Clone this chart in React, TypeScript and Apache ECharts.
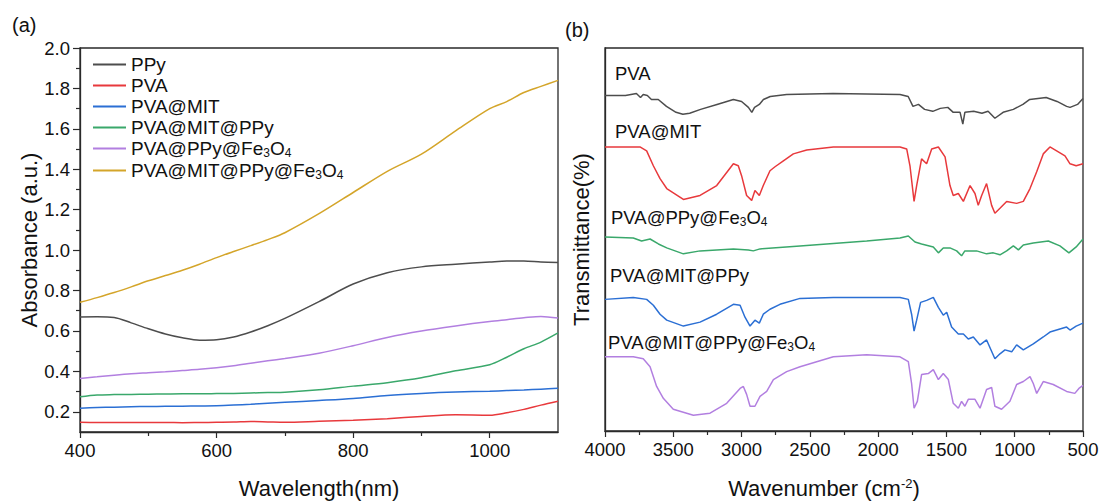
import React, { useEffect, useRef } from 'react';
import * as echarts from 'echarts';

const FONT = "'Liberation Sans', Arial, Helvetica, sans-serif";
const AXIS = '#2a2a2a';
const TXT = '#111111';

// ---------- panel (a): UV-vis absorbance ----------
const wavelengths = [400, 425, 450, 475, 500, 525, 550, 575, 600, 625, 650, 675, 700, 750, 800, 850, 900, 950, 1000, 1025, 1050, 1075, 1100];
const absPPy = [0.669, 0.67, 0.667, 0.64, 0.611, 0.585, 0.566, 0.554, 0.556, 0.57, 0.595, 0.626, 0.662, 0.745, 0.832, 0.888, 0.917, 0.93, 0.941, 0.946, 0.946, 0.941, 0.939];
const absPVA = [0.148, 0.147, 0.147, 0.147, 0.147, 0.147, 0.146, 0.147, 0.148, 0.149, 0.152, 0.15, 0.148, 0.153, 0.158, 0.166, 0.177, 0.185, 0.183, 0.195, 0.212, 0.233, 0.252];
const absPVAMIT = [0.218, 0.221, 0.223, 0.225, 0.226, 0.227, 0.228, 0.229, 0.23, 0.233, 0.237, 0.242, 0.247, 0.256, 0.266, 0.281, 0.291, 0.298, 0.302, 0.305, 0.308, 0.312, 0.316];
const absPVAMITPPy = [0.274, 0.283, 0.285, 0.286, 0.287, 0.288, 0.289, 0.289, 0.29, 0.291, 0.293, 0.295, 0.297, 0.309, 0.327, 0.344, 0.368, 0.403, 0.433, 0.47, 0.512, 0.545, 0.59];
const absPVAPPyFe = [0.365, 0.373, 0.381, 0.388, 0.393, 0.398, 0.404, 0.41, 0.418, 0.428, 0.44, 0.452, 0.464, 0.49, 0.527, 0.568, 0.6, 0.625, 0.647, 0.656, 0.665, 0.672, 0.664];
const absPVAMITPPyFe = [0.742, 0.765, 0.79, 0.818, 0.848, 0.874, 0.9, 0.93, 0.963, 0.993, 1.022, 1.052, 1.086, 1.18, 1.285, 1.39, 1.475, 1.59, 1.7, 1.735, 1.78, 1.81, 1.84];

const uvNames = ['PPy', 'PVA', 'PVA@MIT', 'PVA@MIT@PPy', 'PVA@PPy@Fe3O4', 'PVA@MIT@PPy@Fe3O4'];
const uvValues = [absPPy, absPVA, absPVAMIT, absPVAMITPPy, absPVAPPyFe, absPVAMITPPyFe];
const uvColors = ['#4d4d4d', '#e8393c', '#2b6fd4', '#3aa86b', '#b27fe0', '#d4a52a'];

const yMajorTicks = [0.2, 0.4, 0.6, 0.8, 1.0, 1.2, 1.4, 1.6, 1.8, 2.0];
const yMinorTicks = [0.3, 0.5, 0.7, 0.9, 1.1, 1.3, 1.5, 1.7, 1.9];
const xMajorTicks = [400, 600, 800, 1000];
const xMinorTicks = [500, 700, 900];

// ---------- panel (b): FTIR transmittance (stacked, arbitrary offsets) ----------
const wnPVA = [4000, 3850, 3770, 3740, 3720, 3690, 3660, 3610, 3550, 3480, 3430, 3380, 3300, 3180, 3060, 3000, 2950, 2925, 2905, 2870, 2840, 2790, 2670, 2330, 1840, 1780, 1745, 1705, 1660, 1600, 1545, 1490, 1450, 1400, 1380, 1365, 1300, 1240, 1195, 1145, 1085, 1010, 940, 890, 770, 690, 620, 595, 540, 500];
const tPVA = [339, 339, 341, 337, 340, 339, 335, 335, 328, 322, 320, 321, 325, 330, 335, 333, 327, 322, 327, 330, 335, 338, 340, 341, 340, 338, 328, 330, 325, 323, 326, 327, 322, 322, 310, 322, 323, 321, 323, 316, 322, 325, 330, 335, 337, 333, 328, 327, 330, 336];

const wnPVAMIT = [4000, 3744, 3695, 3646, 3597, 3548, 3426, 3304, 3182, 3060, 3024, 3000, 2963, 2926, 2902, 2870, 2841, 2792, 2755, 2694, 2621, 2523, 2328, 1840, 1791, 1767, 1737, 1718, 1682, 1645, 1608, 1559, 1510, 1474, 1450, 1413, 1376, 1327, 1291, 1267, 1242, 1206, 1169, 1145, 1108, 1059, 986, 937, 888, 839, 791, 742, 693, 632, 595, 550, 500];
const tPVAMIT = [287, 287, 283, 268, 255, 245, 234, 238, 248, 270, 268, 258, 238, 233, 243, 238, 248, 263, 267, 273, 280, 284, 287, 287, 285, 268, 232, 248, 275, 270, 285, 287, 277, 248, 238, 240, 232, 248, 240, 228, 238, 250, 228, 220, 225, 232, 230, 232, 245, 262, 280, 287, 283, 278, 270, 268, 270];

const wnPVAPPyFe = [4000, 3793, 3732, 3670, 3609, 3548, 3426, 3304, 3060, 2950, 2914, 2865, 2572, 2084, 1840, 1779, 1730, 1682, 1596, 1559, 1523, 1474, 1425, 1389, 1365, 1279, 1206, 1157, 1108, 1059, 1010, 973, 937, 864, 754, 669, 603, 550, 500];
const tPVAPPyFe = [196, 195, 192, 194, 189, 185, 179, 182, 184, 183, 182, 184, 187, 192, 195, 197, 191, 189, 186, 180, 185, 185, 182, 177, 182, 182, 179, 180, 178, 182, 187, 183, 188, 190, 192, 187, 180, 186, 194];

const wnPVAMITPPy = [4000, 3793, 3695, 3646, 3597, 3548, 3426, 3304, 3182, 3060, 3011, 2975, 2938, 2902, 2870, 2841, 2792, 2719, 2572, 2328, 1840, 1779, 1755, 1737, 1718, 1689, 1645, 1596, 1559, 1523, 1498, 1462, 1413, 1376, 1340, 1303, 1254, 1206, 1145, 1108, 1071, 1022, 986, 937, 864, 791, 742, 669, 620, 595, 550, 500];
const tPVAMITPPy = [133, 135, 133, 127, 118, 112, 106, 110, 118, 128, 127, 115, 106, 112, 109, 118, 123, 128, 134, 135, 135, 133, 118, 101, 112, 130, 132, 135, 125, 117, 120, 105, 98, 98, 93, 95, 87, 92, 73, 78, 82, 80, 87, 82, 88, 95, 100, 103, 105, 102, 106, 109];

const wnPVAMITPPyFe = [4000, 3793, 3720, 3670, 3622, 3573, 3500, 3353, 3231, 3109, 3011, 2987, 2963, 2938, 2902, 2865, 2816, 2767, 2670, 2572, 2328, 2084, 1840, 1779, 1755, 1737, 1713, 1682, 1633, 1596, 1559, 1523, 1486, 1450, 1413, 1389, 1365, 1340, 1291, 1254, 1206, 1169, 1145, 1096, 1035, 986, 937, 888, 864, 839, 791, 718, 620, 560, 530, 500];
const tPVAMITPPyFe = [75, 75, 73, 65, 45, 33, 22, 16, 18, 28, 43, 45, 37, 25, 25, 35, 40, 52, 60, 65, 75, 77, 75, 70, 48, 23, 30, 57, 58, 62, 52, 58, 52, 28, 23, 30, 25, 32, 32, 23, 42, 44, 25, 22, 30, 47, 50, 55, 48, 38, 50, 47, 40, 38, 43, 46];

const irNames = ['PVA', 'PVA@MIT', 'PVA@PPy@Fe3O4', 'PVA@MIT@PPy', 'PVA@MIT@PPy@Fe3O4'];
const irWn = [wnPVA, wnPVAMIT, wnPVAPPyFe, wnPVAMITPPy, wnPVAMITPPyFe];
const irT = [tPVA, tPVAMIT, tPVAPPyFe, tPVAMITPPy, tPVAMITPPyFe];
const irColors = ['#4d4d4d', '#e8393c', '#3aa86b', '#2b6fd4', '#b27fe0'];
const irLabelPos = [[615, 73], [615, 131], [611, 217], [610, 275], [608, 342]];

const toRich = (s: string) => s.replace('Fe3O4', 'Fe{sub|3}O{sub|4}');
const richSub = {
  sub: { fontSize: 12, fontFamily: FONT, color: TXT, padding: [9, 0, 0, 0] },
  sup: { fontSize: 13, fontFamily: FONT, color: TXT, padding: [0, 0, 9, 0] },
};

export default function App() {
  const ref = useRef<HTMLDivElement>(null);
  useEffect(() => {
    if (!ref.current) return;
    const chart = echarts.init(ref.current, null, { renderer: 'svg' });
    const axisLine = { show: true, onZero: false, lineStyle: { color: AXIS, width: 1.3 } };
    const plain = (v: number) => String(v);
    const uvSeries = uvNames.map((n, i) => ({
      name: n,
      type: 'line',
      xAxisIndex: 0,
      yAxisIndex: 0,
      showSymbol: false,
      symbol: 'none',
      smooth: 0.3,
      lineStyle: { color: uvColors[i], width: 1.5 },
      itemStyle: { color: uvColors[i] },
      data: wavelengths.map((w, k) => [w, uvValues[i][k]]),
    }));
    const irSeries = irNames.map((n, i) => ({
      name: n + ' (FTIR)',
      type: 'line',
      xAxisIndex: 2,
      yAxisIndex: 2,
      showSymbol: false,
      symbol: 'none',
      lineStyle: { color: irColors[i], width: 1.5 },
      itemStyle: { color: irColors[i] },
      data: irWn[i].map((w, k) => [w, irT[i][k]]),
    }));
    const option = {
      animation: false,
      backgroundColor: '#ffffff',
      textStyle: { fontFamily: FONT },
      grid: [
        { left: 80, top: 48, width: 478, height: 386, show: true, borderColor: AXIS, borderWidth: 1.3, backgroundColor: 'transparent' },
        { left: 605, top: 48, width: 478, height: 387, show: true, borderColor: AXIS, borderWidth: 1.3, backgroundColor: 'transparent' },
      ],
      xAxis: [
        {
          gridIndex: 0, type: 'value', min: 400, max: 1100, interval: 100,
          axisLine,
          axisTick: { show: true, length: 6, lineStyle: { color: AXIS, width: 1.2 }, customValues: xMajorTicks },
          axisLabel: { customValues: xMajorTicks, fontSize: 18.5, color: TXT, margin: 9, fontFamily: FONT, formatter: plain },
          splitLine: { show: false },
          name: 'Wavelength(nm)', nameLocation: 'middle', nameGap: 45,
          nameTextStyle: { fontSize: 22, color: TXT, fontFamily: FONT },
        },
        {
          gridIndex: 0, type: 'value', min: 400, max: 1100, position: 'bottom',
          axisLine: { show: false },
          axisTick: { show: true, length: 4, lineStyle: { color: AXIS, width: 1.2 }, customValues: xMinorTicks },
          axisLabel: { show: false },
          splitLine: { show: false },
        },
        {
          gridIndex: 1, type: 'value', min: 500, max: 4000, interval: 500, inverse: true,
          axisLine,
          axisTick: { show: true, length: 6, lineStyle: { color: AXIS, width: 1.2 } },
          minorTick: { show: true, splitNumber: 2, length: 4, lineStyle: { color: AXIS, width: 1.2 } },
          axisLabel: { fontSize: 18.5, color: TXT, margin: 9, fontFamily: FONT, formatter: plain },
          splitLine: { show: false },
          name: 'Wavenumber (cm{sup|-2})', nameLocation: 'middle', nameGap: 46,
          nameTextStyle: { fontSize: 22, color: TXT, fontFamily: FONT, padding: [0, 40, 0, 0], rich: richSub },
        },
      ],
      yAxis: [
        {
          gridIndex: 0, type: 'value', min: 0.1, max: 2.0,
          axisLine,
          axisTick: { show: true, length: 7, lineStyle: { color: AXIS, width: 1.2 }, customValues: yMajorTicks },
          axisLabel: { customValues: yMajorTicks, fontSize: 18.5, color: TXT, margin: 10, fontFamily: FONT, formatter: (v: number) => v.toFixed(1) },
          splitLine: { show: false },
          name: 'Absorbance (a.u.)', nameLocation: 'middle', nameGap: 40,
          nameTextStyle: { fontSize: 22, color: TXT, fontFamily: FONT },
        },
        {
          gridIndex: 0, type: 'value', min: 0.1, max: 2.0, position: 'left',
          axisLine: { show: false },
          axisTick: { show: true, length: 4, lineStyle: { color: AXIS, width: 1.2 }, customValues: yMinorTicks },
          axisLabel: { show: false },
          splitLine: { show: false },
        },
        {
          gridIndex: 1, type: 'value', min: 0, max: 387,
          axisLine,
          axisTick: { show: false },
          axisLabel: { show: false },
          splitLine: { show: false },
          name: 'Transmittance(%)', nameLocation: 'middle', nameGap: 13,
          nameTextStyle: { fontSize: 22, color: TXT, fontFamily: FONT },
        },
      ],
      legend: {
        data: uvNames,
        orient: 'vertical',
        left: 88,
        top: 50,
        itemWidth: 33,
        itemHeight: 2,
        itemGap: 2,
        icon: 'rect',
        selectedMode: false,
        textStyle: { fontSize: 19, color: TXT, fontFamily: FONT, rich: richSub },
        formatter: (n: string) => toRich(n),
      },
      graphic: [
        { type: 'text', left: 12, top: 15, style: { text: '(a)', fontSize: 20, fontFamily: FONT, fill: TXT } },
        { type: 'text', left: 565, top: 20, style: { text: '(b)', fontSize: 20, fontFamily: FONT, fill: TXT } },
        ...irNames.map((n, i) => ({
          type: 'text',
          x: irLabelPos[i][0],
          y: irLabelPos[i][1],
          style: {
            text: toRich(n),
            fontSize: 18.5,
            fontFamily: FONT,
            fill: TXT,
            verticalAlign: 'middle',
            rich: richSub,
          },
        })),
      ],
      series: [...uvSeries, ...irSeries],
    };
    chart.setOption(option as any);
    return () => chart.dispose();
  }, []);
  return <div ref={ref} style={{ position: 'fixed', left: 0, top: 0, width: 1103, height: 504, background: '#fff' }} />;
}
